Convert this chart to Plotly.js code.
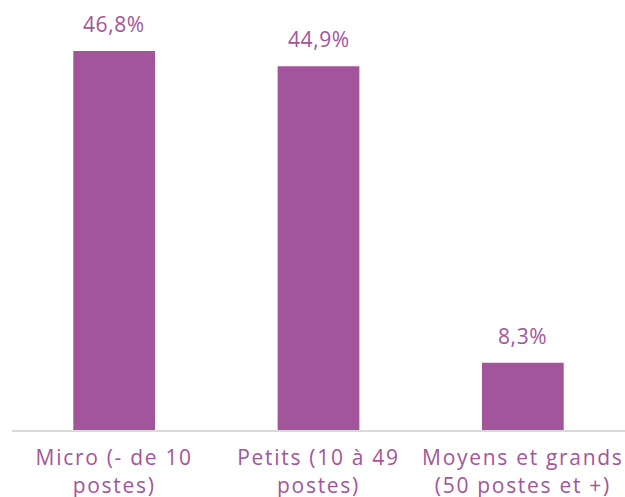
<!DOCTYPE html>
<html><head><meta charset="utf-8">
<script src="https://cdn.plot.ly/plotly-3.0.1.min.js"></script>
<style>body{margin:0;background:#fff}#c{width:625px;height:497px}
.xtick text{letter-spacing:1.7px}
.annotation-text{letter-spacing:0.6px}</style>
</head><body><div id="c"></div>
<script>
var categories = ["Micro (- de 10<br>postes)", "Petits (10 à 49<br>postes)", "Moyens et grands<br>(50 postes et +)"];
var values = [46.8, 44.9, 8.3];
var labels = ["46,8%", "44,9%", "8,3%"];
var purple = "#A3559B";
var font = "'Open Sans', sans-serif";
var annotations = categories.map(function (c, i) {
  return {x: c, y: values[i], text: labels[i], showarrow: false,
    xanchor: "center", yanchor: "bottom", yshift: 11,
    font: {family: font, size: 21, color: purple}};
});
Plotly.newPlot("c", [{
  type: "bar", x: categories, y: values, hoverinfo: "none",
  marker: {color: purple}, width: 0.4
}], {
  width: 625, height: 497,
  margin: {l: 12, r: 0, t: 25, b: 67},
  paper_bgcolor: "#fff", plot_bgcolor: "#fff",
  showlegend: false,
  annotations: annotations,
  xaxis: {showline: true, linecolor: "#d9d9d9", linewidth: 2, ticks: "",
    tickfont: {family: font, size: 21, color: purple}, ticklabelstandoff: 8},
  yaxis: {range: [0, 50], visible: false, showgrid: false, zeroline: false}
}, {displayModeBar: false, staticPlot: true});
</script></body></html>
